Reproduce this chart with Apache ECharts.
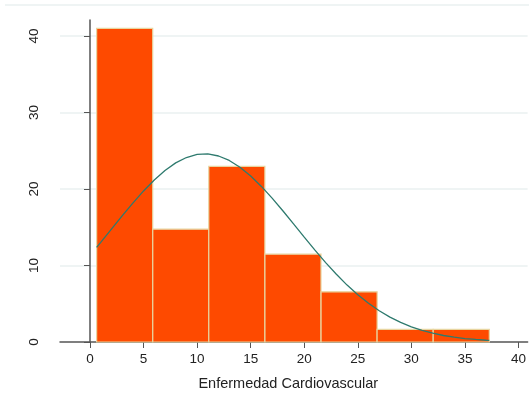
<!DOCTYPE html>
<html>
<head>
<meta charset="utf-8">
<script src="https://cdn.jsdelivr.net/npm/echarts@6/dist/echarts.min.js"></script>
<style>
  html, body { margin: 0; padding: 0; background: #fff; }
  #main { width: 529px; height: 396px; }
</style>
</head>
<body>
<div id="main"></div>
<script>
// histogram bins (lower edge, width) and percentages
const binStart = [0.62, 5.86, 11.09, 16.33, 21.57, 26.80, 32.04];
const binWidth = 5.235;
const percent = [41.0, 14.75, 22.95, 11.48, 6.56, 1.64, 1.64];

// normal density overlay
const curveX = [0.62, 1, 2, 3, 4, 5, 6, 7, 8, 9, 10, 11, 12, 13, 14, 15, 16, 17, 18, 19,
    20, 21, 22, 23, 24, 25, 26, 27, 28, 29, 30, 31, 32, 33, 34, 35, 36, 37, 37.27];
const curveY = [12.37, 13.02, 14.75, 16.48, 18.16, 19.75, 21.19, 22.43, 23.42, 24.12, 24.52, 24.59, 24.32, 23.74, 22.85, 21.71, 20.34, 18.81, 17.16, 15.44,
    13.71, 12.01, 10.38, 8.85, 7.44, 6.17, 5.06, 4.08, 3.25, 2.56, 1.98, 1.52, 1.15, 0.85, 0.63, 0.45, 0.33, 0.23, 0.21];

const xTicks = [0, 5, 10, 15, 20, 25, 30, 35, 40];
const yTicks = [0, 10, 20, 30, 40];

const chart = echarts.init(document.getElementById('main'));

const barData = binStart.map(function (s, i) { return [s, s + binWidth, percent[i]]; });
const curveData = curveX.map(function (x, i) { return [x, curveY[i]]; });

const option = {
    animation: false,
    backgroundColor: '#fff',
    textStyle: { fontFamily: 'Liberation Sans, Arial, sans-serif' },
    grid: { left: 60, right: 0, top: 20, bottom: 53 },
    xAxis: {
        type: 'value',
        min: -2.8,
        max: 40.85,
        name: 'Enfermedad Cardiovascular',
        nameLocation: 'middle',
        nameGap: 34,
        nameTextStyle: { fontSize: 14.5, color: '#222', padding: [0, 11, 0, 0] },
        axisLine: { show: true, lineStyle: { color: '#555', width: 1.5 } },
        axisTick: { show: true, length: 6, customValues: xTicks, lineStyle: { color: '#555', width: 1 } },
        axisLabel: { customValues: xTicks, fontSize: 13.5, color: '#222', margin: 10 },
        splitLine: { show: false }
    },
    yAxis: {
        type: 'value',
        min: 0,
        max: 42.1,
        axisLine: { show: true, lineStyle: { color: '#555', width: 1.5 } },
        axisTick: { show: true, length: 6, customValues: yTicks, lineStyle: { color: '#555', width: 1 } },
        axisLabel: { customValues: yTicks, rotate: 90, fontSize: 13.5, color: '#222', margin: 19 },
        splitLine: { show: false }
    },
    graphic: [{
        type: 'line',
        shape: { x1: 5, y1: 5, x2: 529, y2: 5 },
        style: { stroke: '#eaf0f0', lineWidth: 1.5 }
    }],
    series: [{
        type: 'custom',
        data: barData,
        renderItem: function (params, api) {
            const p0 = api.coord([api.value(0), 0]);
            const p1 = api.coord([api.value(1), api.value(2)]);
            return {
                type: 'rect',
                shape: { x: p0[0], y: p1[1], width: p1[0] - p0[0], height: p0[1] - p1[1] },
                style: { fill: '#fe4a00', stroke: '#e8d5a0', lineWidth: 1.2 }
            };
        },
        encode: { x: [0, 1], y: 2 },
        markLine: {
            silent: true,
            symbol: 'none',
            label: { show: false },
            lineStyle: { color: '#eaf0f0', width: 1.5, type: 'solid' },
            data: [{ yAxis: 10 }, { yAxis: 20 }, { yAxis: 30 }, { yAxis: 40 }],
            z: 0
        },
        z: 2
    }, {
        type: 'line',
        data: curveData,
        smooth: false,
        showSymbol: false,
        lineStyle: { color: '#2e7a6e', width: 1.3 },
        z: 3
    }]
};

chart.setOption(option);
</script>
</body>
</html>
